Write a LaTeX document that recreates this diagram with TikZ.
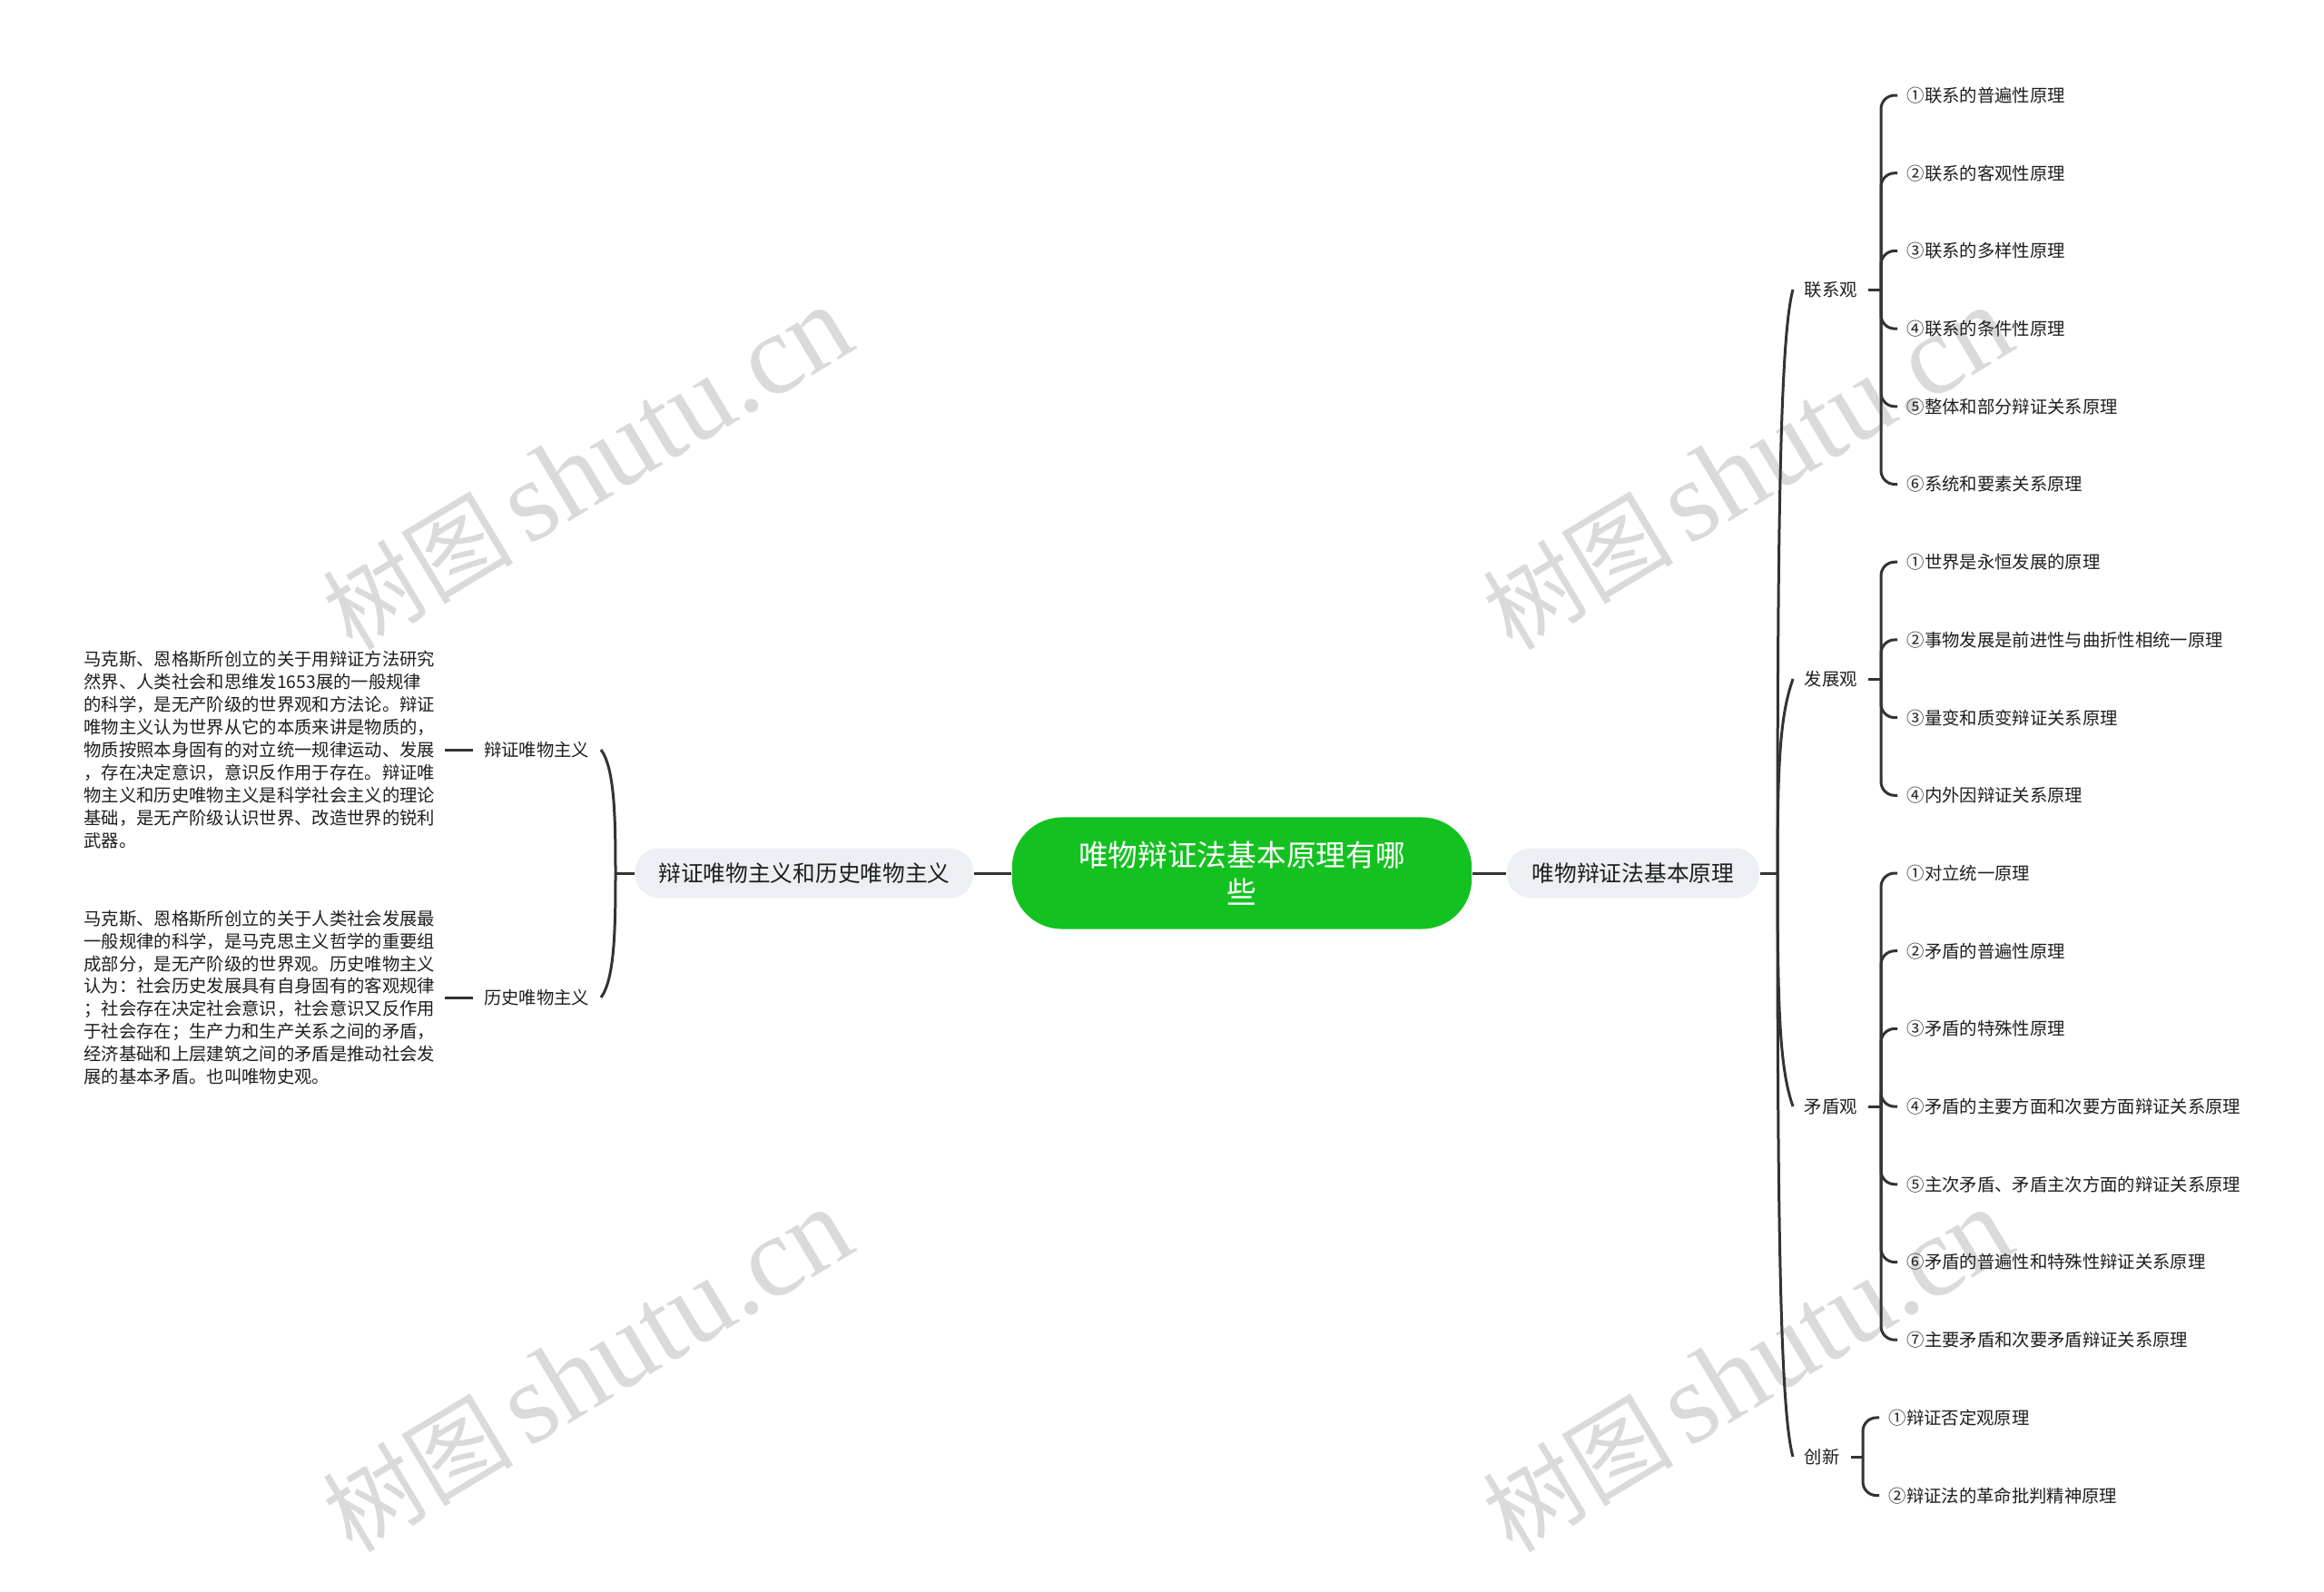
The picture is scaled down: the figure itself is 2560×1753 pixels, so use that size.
\documentclass[tikz,border=0pt]{standalone}
\usepackage{fontspec}
\setmainfont{Noto Sans CJK SC}
\newfontfamily\wmserif{Liberation Serif}
\definecolor{linec}{RGB}{51,51,51}
\definecolor{textc}{RGB}{30,30,30}
\definecolor{mainfill}{RGB}{236,239,243}
\definecolor{rootfill}{RGB}{19,194,32}
\definecolor{wmc}{RGB}{218,218,218}
\begin{document}
\begin{tikzpicture}[x=0.01cm,y=0.01cm,
  conn/.style={draw=linec,line width=0.03cm},
  leaf/.style={anchor=west,inner xsep=0.1cm,inner ysep=0.04cm,text=textc,font=\fontsize{5.5pt}{7pt}\selectfont},
  lab/.style={inner xsep=0.12cm,inner ysep=0.04cm,text=textc,font=\fontsize{5.5pt}{7pt}\selectfont},
  para/.style={anchor=east,inner xsep=0.1cm,align=left,text=textc,font=\fontsize{5.5pt}{7.08pt}\selectfont},
  mainbox/.style={fill=mainfill,rounded corners=0.27cm,minimum height=0.55cm,inner xsep=0.26cm,text=textc,font=\fontsize{7.03pt}{9pt}\selectfont},
  rootbox/.style={fill=rootfill,rounded corners=0.55cm,minimum height=1.23cm,minimum width=5.06cm,align=center,text=white,font=\fontsize{9.3pt}{11.67pt}\selectfont},
  wm/.style={rotate=31,text=wmc,inner sep=0}
]
\useasboundingbox (0,0) rectangle (2560,-1753);
% watermarks
\foreach \wx/\wy [count=\i] in {647/516,1925/516,647/1510,1925/1510}{
  \node[wm] (w\i) at (\wx,-\wy) {{\fontsize{30pt}{30pt}\selectfont 树图}\hspace{0.15cm}{\wmserif\fontsize{36pt}{36pt}\selectfont shutu.cn}};
}
% root and main nodes
\node[rootbox] (root) at (1368,-962) {唯物辩证法基本原理有哪\\些};
\node[mainbox] (lm) at (886,-962) {辩证唯物主义和历史唯物主义};
\node[mainbox,inner xsep=0.28cm] (rm) at (1799,-962) {唯物辩证法基本原理};
\draw[conn] (lm.east) -- (root.west);
\draw[conn] (root.east) -- (rm.west);

% left side
\coordinate (lb) at (678,-962);
\node[lab,anchor=east] (dm) at (662,-826) {辩证唯物主义};
\node[lab,anchor=east] (hm) at (662,-1099) {历史唯物主义};
\node[para] (p1) at (490,-826) {马克斯、恩格斯所创立的关于用辩证方法研究\\
然界、人类社会和思维发1653展的一般规律\\
的科学，是无产阶级的世界观和方法论。辩证\\
唯物主义认为世界从它的本质来讲是物质的，\\
物质按照本身固有的对立统一规律运动、发展\\
，存在决定意识，意识反作用于存在。辩证唯\\
物主义和历史唯物主义是科学社会主义的理论\\
基础，是无产阶级认识世界、改造世界的锐利\\
武器。};
\node[para] (p2) at (490,-1099) {马克斯、恩格斯所创立的关于人类社会发展最\\
一般规律的科学，是马克思主义哲学的重要组\\
成部分，是无产阶级的世界观。历史唯物主义\\
认为：社会历史发展具有自身固有的客观规律\\
；社会存在决定社会意识，社会意识又反作用\\
于社会存在；生产力和生产关系之间的矛盾，\\
经济基础和上层建筑之间的矛盾是推动社会发\\
展的基本矛盾。也叫唯物史观。};
\draw[conn] (lm.west) -- (lb);
\draw[conn] (lb) .. controls (678,-900) and (677,-846) .. (dm.east);
\draw[conn] (lb) .. controls (678,-1024) and (677,-1079) .. (hm.east);
\draw[conn] (p1.east) -- (dm.west);
\draw[conn] (p2.east) -- (hm.west);

% right side trunk
\coordinate (rt) at (1958,-962);
\draw[conn] (rm.east) -- (rt);
\node[lab,anchor=west] (g1) at (1975,-319) {联系观};
\node[lab,anchor=west] (g2) at (1975,-748) {发展观};
\node[lab,anchor=west] (g3) at (1975,-1219) {矛盾观};
\node[lab,anchor=west] (g4) at (1975,-1605) {创新};
\draw[conn] (rt) .. controls (1958,-579) and (1961,-369) .. (g1.west);
\draw[conn] (rt) .. controls (1958,-838) and (1961,-788) .. (g2.west);
\draw[conn] (rt) .. controls (1958,-1119) and (1961,-1179) .. (g3.west);
\draw[conn] (rt) .. controls (1958,-1345) and (1961,-1555) .. (g4.west);

% leaves
\node[leaf] (a1) at (2090,-105) {①联系的普遍性原理};
\node[leaf] (a2) at (2090,-190.7) {②联系的客观性原理};
\node[leaf] (a3) at (2090,-276.4) {③联系的多样性原理};
\node[leaf] (a4) at (2090,-362.1) {④联系的条件性原理};
\node[leaf] (a5) at (2090,-447.8) {⑤整体和部分辩证关系原理};
\node[leaf] (a6) at (2090,-533.5) {⑥系统和要素关系原理};
\node[leaf] (b1) at (2090,-619.2) {①世界是永恒发展的原理};
\node[leaf] (b2) at (2090,-704.9) {②事物发展是前进性与曲折性相统一原理};
\node[leaf] (b3) at (2090,-790.6) {③量变和质变辩证关系原理};
\node[leaf] (b4) at (2090,-876.3) {④内外因辩证关系原理};
\node[leaf] (c1) at (2090,-962) {①对立统一原理};
\node[leaf] (c2) at (2090,-1047.7) {②矛盾的普遍性原理};
\node[leaf] (c3) at (2090,-1133.4) {③矛盾的特殊性原理};
\node[leaf] (c4) at (2090,-1219.1) {④矛盾的主要方面和次要方面辩证关系原理};
\node[leaf] (c5) at (2090,-1304.8) {⑤主次矛盾、矛盾主次方面的辩证关系原理};
\node[leaf] (c6) at (2090,-1390.5) {⑥矛盾的普遍性和特殊性辩证关系原理};
\node[leaf] (c7) at (2090,-1476.2) {⑦主要矛盾和次要矛盾辩证关系原理};
\node[leaf] (d1) at (2070,-1561.9) {①辩证否定观原理};
\node[leaf] (d2) at (2070,-1647.6) {②辩证法的革命批判精神原理};

\coordinate (ka) at (2072,-319);
\coordinate (kb) at (2072,-748);
\coordinate (kc) at (2072,-1219);
\coordinate (kd) at (2052,-1605);
\draw[conn] (g1.east) -- (ka);
\draw[conn] (g2.east) -- (kb);
\draw[conn] (g3.east) -- (kc);
\draw[conn] (g4.east) -- (kd);
\foreach \n in {a1,a2,a3,a4,a5,a6}{\draw[conn,rounded corners=0.15cm] (ka) |- (\n.west);}
\foreach \n in {b1,b2,b3,b4}{\draw[conn,rounded corners=0.15cm] (kb) |- (\n.west);}
\foreach \n in {c1,c2,c3,c4,c5,c6,c7}{\draw[conn,rounded corners=0.15cm] (kc) |- (\n.west);}
\foreach \n in {d1,d2}{\draw[conn,rounded corners=0.15cm] (kd) |- (\n.west);}
\end{tikzpicture}
\end{document}
